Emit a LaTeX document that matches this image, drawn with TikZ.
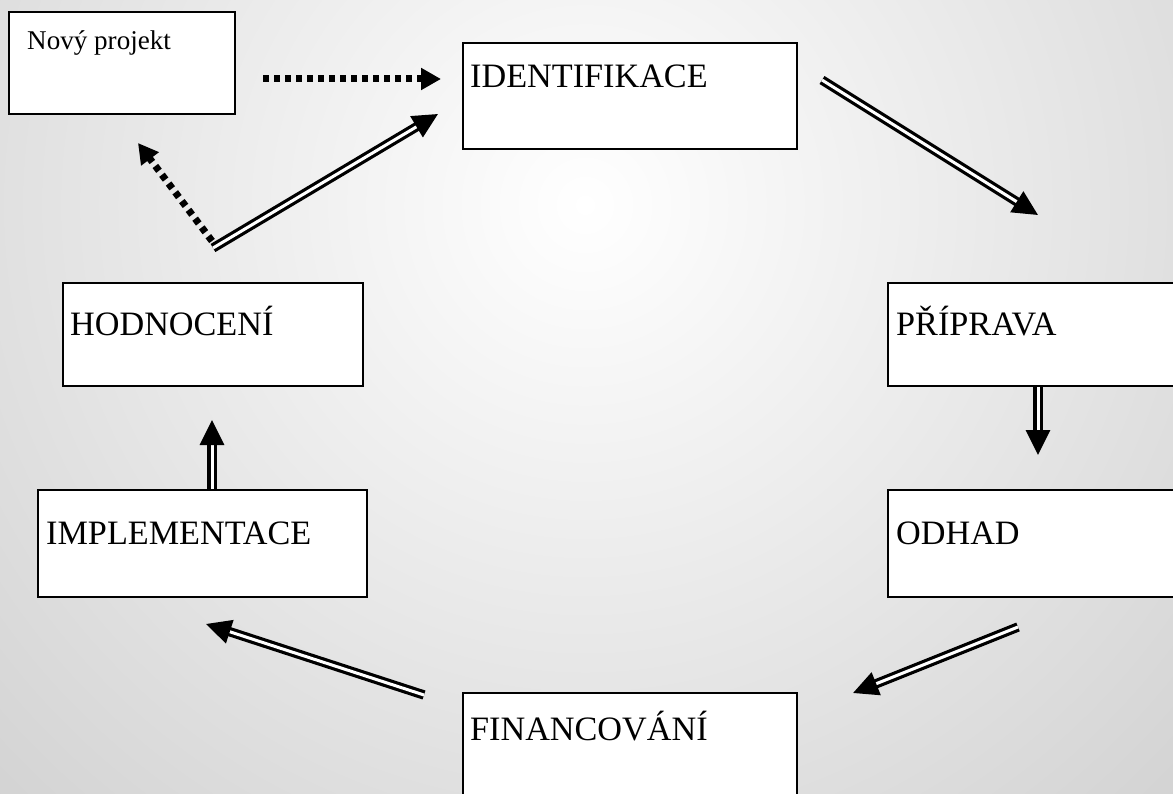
\documentclass[tikz,border=0pt]{standalone}
\usepackage{fontspec}
\setmainfont{Liberation Serif}
\usetikzlibrary{arrows.meta}
\begin{document}
\begin{tikzpicture}[x=1pt,y=-1pt,
  box/.style={draw=black, line width=2pt, fill=white, anchor=north west, inner sep=0pt},
  lbl/.style={anchor=base west, inner sep=0pt, font=\fontsize{34.2}{40}\selectfont},
  slbl/.style={anchor=base west, inner sep=0pt, font=\fontsize{27.1}{32}\selectfont},
  dbl/.style={draw=black, double=white, double distance=3pt, line width=3.2pt, -{Triangle[length=25pt,width=24pt]}},
  dotarrow/.style={draw=black, line width=7pt, dash pattern=on 6pt off 5pt, -{Triangle[length=20pt,width=21pt]}}
]
\useasboundingbox (0,0) rectangle (1173,794);
\clip (0,0) rectangle (1173,794);
\shade[inner color=white, outer color=black!36] (585,205) circle (1750);

% boxes
\node[box, minimum width=226pt, minimum height=102pt] (novy) at (8,11) {};
\node[box, minimum width=334pt, minimum height=106pt] (ident) at (462,42) {};
\node[box, minimum width=300pt, minimum height=103pt] (prip) at (887,282) {};
\node[box, minimum width=300pt, minimum height=107pt] (odhad) at (887,489) {};
\node[box, minimum width=334pt, minimum height=120pt] (fin) at (462,692) {};
\node[box, minimum width=329pt, minimum height=107pt] (impl) at (37,489) {};
\node[box, minimum width=300pt, minimum height=103pt] (hodn) at (62,282) {};

% labels
\node[slbl] (tnovy) at (27,50) {Nový projekt};
\node[lbl] (tident) at (470,88) {IDENTIFIKACE};
\node[lbl] (tprip) at (896,336) {PŘÍPRAVA};
\node[lbl] (todhad) at (896,544) {ODHAD};
\node[lbl] (tfin) at (470,740) {FINANCOVÁNÍ};
\node[lbl] (timpl) at (46,544) {IMPLEMENTACE};
\node[lbl] (thodn) at (70,336) {HODNOCENÍ};

% connector end points
\coordinate (d1s) at (263,79);
\coordinate (d1e) at (441,79);
\coordinate (d2s) at (212,241);
\coordinate (d2e) at (138,143);
\coordinate (a1s) at (213,248);
\coordinate (a1e) at (438,114);
\coordinate (a2s) at (822,80);
\coordinate (a2e) at (1038,215);
\coordinate (a3s) at (prip.south west -| 1038,0);
\coordinate (a3e) at (1038,455);
\coordinate (a4s) at (1018,627);
\coordinate (a4e) at (853,693);
\coordinate (a5s) at (424,695);
\coordinate (a5e) at (206,624);
\coordinate (a6s) at (impl.north west -| 212,0);
\coordinate (a6e) at (212,420);

\draw[dotarrow] (d1s) -- (d1e);
\draw[dotarrow] (d2s) -- (d2e);
\draw[dbl] (a1s) -- (a1e);
\draw[dbl] (a2s) -- (a2e);
\draw[dbl] (a3s) -- (a3e);
\draw[dbl] (a4s) -- (a4e);
\draw[dbl] (a5s) -- (a5e);
\draw[dbl] (a6s) -- (a6e);
\end{tikzpicture}
\end{document}
